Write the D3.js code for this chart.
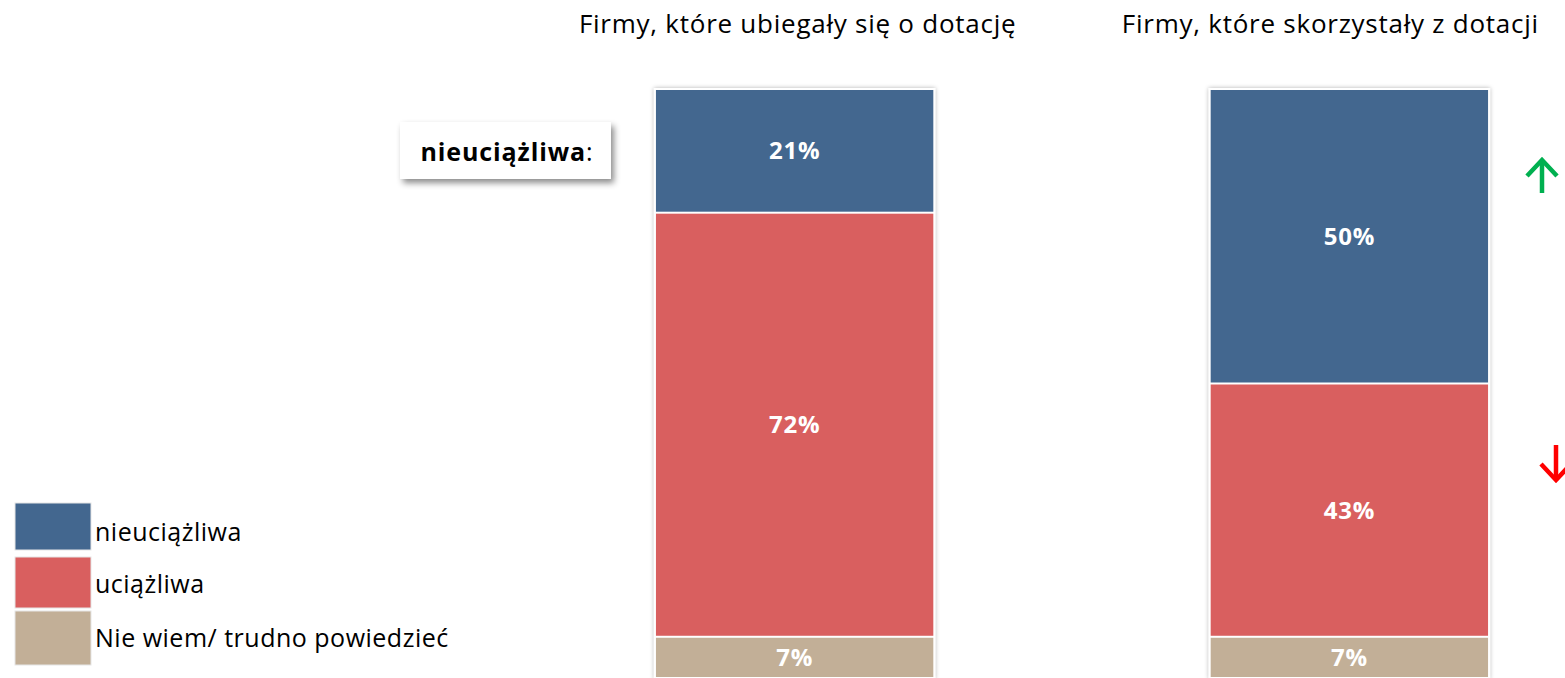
<!DOCTYPE html>
<html>
<head>
<meta charset="utf-8">
<script src="https://cdn.jsdelivr.net/npm/d3@7"></script>
<style>
  body { margin: 0; background: #fff; }
  svg { display: block; font-family: "Open Sans", "Noto Sans", sans-serif; }
</style>
</head>
<body>
<svg id="chart" width="1565" height="678"></svg>
<script>
// data
const groups = ['Firmy, które ubiegały się o dotację', 'Firmy, które skorzystały z dotacji'];
const categories = ['nieuciążliwa', 'uciążliwa', 'Nie wiem/ trudno powiedzieć'];
const nieuciazliwa = [21, 50];
const uciazliwa = [72, 43];
const nieWiem = [7, 7];
const colors = ['#43678f', '#d95f5f', '#c2af97'];

const svg = d3.select('#chart');

let x = d3.scaleBand().domain(groups).range([545, 1599]).paddingInner(0.5).paddingOuter(0.2);
let y = d3.scaleLinear().domain([0, 100]).range([89, 678]);

let series = [nieuciazliwa, uciazliwa, nieWiem];
let rows = groups.map(function (g, i) {
    let r = { group: g };
    categories.forEach(function (c, k) { r[c] = series[k][i]; });
    return r;
});
let stacked = d3.stack().keys(categories)(rows);

let defs = svg.append('defs');
let f = defs.append('filter').attr('id', 'shadow').attr('x', '-20%').attr('y', '-20%').attr('width', '140%').attr('height', '150%');
f.append('feDropShadow').attr('dx', 3).attr('dy', 4).attr('stdDeviation', 3).attr('flood-color', '#000').attr('flood-opacity', 0.45);
let f2 = defs.append('filter').attr('id', 'barshadow').attr('x', '-5%').attr('y', '-5%').attr('width', '110%').attr('height', '110%');
f2.append('feDropShadow').attr('dx', 0).attr('dy', 0).attr('stdDeviation', 2).attr('flood-color', '#000').attr('flood-opacity', 0.3);

// bar backgrounds (light frame)
svg.append('g').selectAll('rect')
    .data(groups)
    .enter().append('rect')
    .attr('x', function (d) { return x(d) - 2; })
    .attr('y', y(0) - 1)
    .attr('width', x.bandwidth() + 4)
    .attr('height', y(100) - y(0) + 2)
    .attr('fill', '#fff')
    .attr('filter', 'url(#barshadow)');

let layer = svg.append('g').selectAll('g')
    .data(stacked)
    .enter().append('g')
    .attr('fill', function (d, i) { return colors[i]; });

layer.selectAll('rect')
    .data(function (d) { return d; })
    .enter().append('rect')
    .attr('x', function (d) { return x(d.data.group); })
    .attr('y', function (d) { return y(d[0]) + 1; })
    .attr('width', x.bandwidth())
    .attr('height', function (d) { return y(d[1]) - y(d[0]) - 2; });

layer.selectAll('text')
    .data(function (d) { return d; })
    .enter().append('text')
    .attr('x', function (d) { return x(d.data.group) + x.bandwidth() / 2; })
    .attr('y', function (d) { return (y(d[0]) + y(d[1])) / 2; })
    .attr('dy', '0.36em')
    .attr('text-anchor', 'middle')
    .attr('fill', '#fff')
    .attr('font-weight', 'bold')
    .attr('font-size', 24)
    .attr('letter-spacing', 0.8)
    .text(function (d) { return (d[1] - d[0]) + '%'; });

// titles (second one sits a little left of its bar)
let titleShift = [3, -19];
svg.append('g').selectAll('text')
    .data(groups)
    .enter().append('text')
    .attr('x', function (d, i) { return x(d) + x.bandwidth() / 2 + titleShift[i]; })
    .attr('y', 33)
    .attr('text-anchor', 'middle')
    .attr('font-size', 26)
    .attr('letter-spacing', 0.75)
    .attr('fill', '#000')
    .text(function (d) { return d; });

// callout box
let box = svg.append('g');
box.append('rect')
    .attr('x', 400).attr('y', 122).attr('width', 211).attr('height', 57)
    .attr('fill', '#fff')
    .attr('filter', 'url(#shadow)');
let bt = box.append('text')
    .attr('x', 507).attr('y', 152).attr('dy', '0.36em')
    .attr('text-anchor', 'middle')
    .attr('font-size', 25)
    .attr('letter-spacing', 0.9);
bt.append('tspan').attr('font-weight', 'bold').text(categories[0]);
bt.append('tspan').text(':');

// legend
let legend = svg.append('g').selectAll('g')
    .data(categories)
    .enter().append('g')
    .attr('transform', function (d, i) { return 'translate(15,' + [503, 557, 611][i] + ')'; });
legend.append('rect')
    .attr('width', 76)
    .attr('height', function (d, i) { return [47, 51, 54][i]; })
    .attr('fill', function (d, i) { return colors[i]; })
    .attr('stroke', '#e6e6e6');
legend.append('text')
    .attr('x', 80)
    .attr('y', function (d, i) { return [38, 36, 36][i]; })
    .attr('font-size', 25)
    .attr('letter-spacing', 0.5)
    .text(function (d) { return d; });

// change arrows
function arrow(cx, top, bottom, up, color) {
    let tip = up ? top : bottom;
    let base = up ? bottom : top;
    let dir = up ? 1 : -1;
    let g = svg.append('g').attr('stroke', color).attr('stroke-width', 4.5).attr('fill', 'none');
    g.append('line').attr('x1', cx).attr('x2', cx).attr('y1', base).attr('y2', tip + dir * 2);
    g.append('path').attr('d', 'M' + (cx - 15) + ',' + (tip + dir * 16) + 'L' + cx + ',' + tip + 'L' + (cx + 15) + ',' + (tip + dir * 16));
}
arrow(1542, 160, 193, true, '#00b050');
arrow(1556, 445, 480, false, '#ff0000');
</script>
</body>
</html>
